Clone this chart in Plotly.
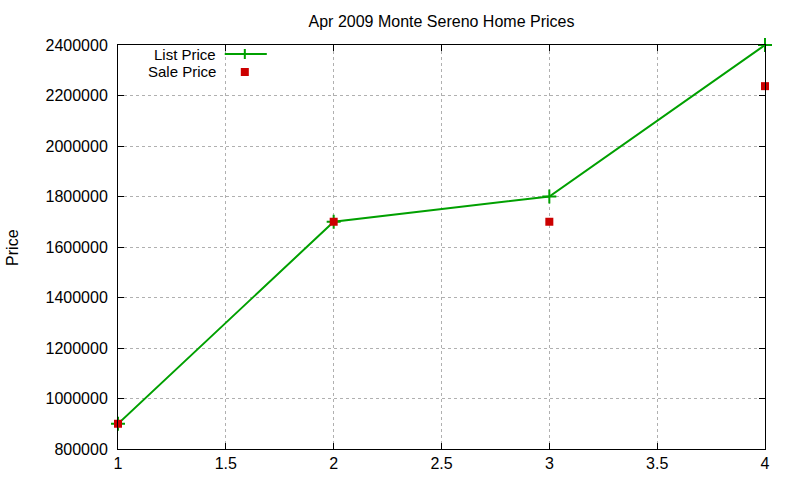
import plotly.graph_objects as go

# --- data ---
x_vals = [1, 2, 3, 4]
list_price = [900000, 1700000, 1800000, 2400000]
sale_price = [900000, 1700000, 1700000, 2237000]

FONT = "Liberation Sans, Arial, sans-serif"
GREEN = "#00a000"
RED = "#cc0000"

fig = go.Figure()
fig.add_trace(
    go.Scatter(
        x=x_vals,
        y=list_price,
        mode="lines+markers",
        name="List Price",
        line=dict(color=GREEN, width=2),
        marker=dict(symbol="cross-thin", size=10, line=dict(color=GREEN, width=2)),
        cliponaxis=False,
    )
)
fig.add_trace(
    go.Scatter(
        x=x_vals,
        y=sale_price,
        mode="markers",
        name="Sale Price",
        marker=dict(symbol="square", size=8, color=RED),
        cliponaxis=False,
    )
)

axis_common = dict(
    automargin=False,
    showline=True,
    linecolor="black",
    linewidth=1,
    mirror="ticks",
    ticks="inside",
    ticklen=6,
    tickcolor="black",
    showgrid=True,
    gridcolor="#b0b0b0",
    griddash="dot",
    gridwidth=1,
    zeroline=False,
    tickfont=dict(family=FONT, size=16, color="black"),
)

fig.update_layout(
    width=800,
    height=480,
    margin=dict(l=118, r=35, t=45, b=31),
    paper_bgcolor="white",
    plot_bgcolor="white",
    showlegend=False,
    font=dict(family=FONT, size=16, color="black"),
    title=dict(
        text="Apr 2009 Monte Sereno Home Prices",
        x=0.5, xref="paper", xanchor="center",
        y=1 - 21 / 480, yanchor="middle",
        font=dict(family=FONT, size=16, color="black"),
    ),
    xaxis=dict(range=[1, 4], dtick=0.5, tick0=1, ticklabelstandoff=0, **axis_common),
    yaxis=dict(range=[800000, 2400000], dtick=200000, tickformat="d",
               ticklabelstandoff=6, **axis_common),
)

# y axis label
fig.add_annotation(
    text="Price", textangle=-90, xref="paper", yref="paper",
    x=-0.164, y=0.5, xanchor="center", yanchor="middle", showarrow=False,
    font=dict(family=FONT, size=16, color="black"),
)

# --- gnuplot-style key: text right-aligned, sample on the right ---
key_rows = [("List Price", 0.9777), ("Sale Price", 0.9332)]
for label, ky in key_rows:
    fig.add_annotation(
        text=label, xref="paper", yref="paper", x=0.153, y=ky,
        xanchor="right", yanchor="middle", showarrow=False,
        borderpad=0,
        font=dict(family=FONT, size=15, color="black"),
    )

ly = key_rows[0][1]
fig.add_shape(type="line", xref="paper", yref="paper", x0=0.165, x1=0.230,
              y0=ly, y1=ly, line=dict(color=GREEN, width=2))
fig.add_shape(type="line", xref="paper", yref="paper", x0=0.196 - 0.0077, x1=0.196 + 0.0077,
              y0=ly, y1=ly, line=dict(color=GREEN, width=2))
fig.add_shape(type="line", xref="paper", yref="paper", x0=0.196, x1=0.196,
              y0=ly - 0.0124, y1=ly + 0.0124, line=dict(color=GREEN, width=2))
sy = key_rows[1][1]
fig.add_shape(type="rect", xref="paper", yref="paper", x0=0.196 - 0.0062, x1=0.196 + 0.0062,
              y0=sy - 0.0099, y1=sy + 0.0099, fillcolor=RED, line=dict(width=0))

# drop the browser's default 8px body margin so the figure fills the window
fig.write_html(
    "out.html",
    config={"displayModeBar": False},
    post_script="document.body.style.margin = '0';",
)
